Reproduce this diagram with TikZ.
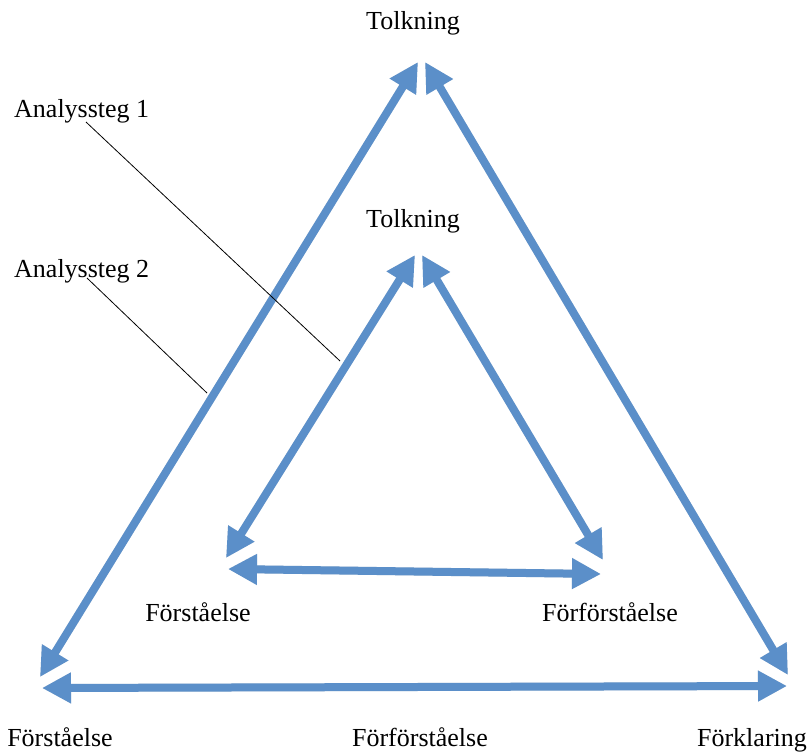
\documentclass[tikz,border=0pt]{standalone}
\usepackage{fontspec}
\setmainfont{Liberation Serif}
\usetikzlibrary{arrows.meta}
\definecolor{arrowblue}{RGB}{91,143,201}
\tikzset{
  tip/.style={Triangle[length=29pt,width=29pt]},
  dbl/.style={line width=8pt,draw=arrowblue,{Triangle[length=29pt,width=29pt]}-{Triangle[length=29pt,width=29pt]}},
  shadowed/.style={line width=8pt,draw=black,opacity=0.10,{Triangle[length=29pt,width=29pt]}-{Triangle[length=29pt,width=29pt]}},
  lbl/.style={font=\fontsize{26}{30}\selectfont,inner sep=0pt,anchor=base},
  leader/.style={draw=black,line width=0.8pt}
}
\begin{document}
\begin{tikzpicture}[x=1pt,y=-1pt]
\useasboundingbox (0,0) rectangle (812,753);
% outer tips
\coordinate (oBL) at (40,677);
\coordinate (oTL) at (418,62);
\coordinate (oTR) at (425,62);
\coordinate (oBR) at (788,675);
\coordinate (oHL) at (42,688);
\coordinate (oHR) at (787,686);
% inner tips
\coordinate (iBL) at (226,558);
\coordinate (iTL) at (415,255);
\coordinate (iTR) at (422,255);
\coordinate (iBR) at (603,560);
\coordinate (iHL) at (228,569);
\coordinate (iHR) at (601,574);
% leader ends
\coordinate (l1) at (340,361);
\coordinate (l2) at (207,393);
% shadows
\begin{scope}[shift={(2,3)}]
\foreach \a/\b in {oBL/oTL,oTR/oBR,oHL/oHR,iBL/iTL,iTR/iBR,iHL/iHR}
  \draw[shadowed] (\a) -- (\b);
\end{scope}
% arrows
\draw[dbl] (oBL) -- (oTL);
\draw[dbl] (oTR) -- (oBR);
\draw[dbl] (oHL) -- (oHR);
\draw[dbl] (iBL) -- (iTL);
\draw[dbl] (iTR) -- (iBR);
\draw[dbl] (iHL) -- (iHR);
% labels
\node[lbl] (t1) at (413,29) {Tolkning};
\node[lbl] (t2) at (413,227) {Tolkning};
\node[lbl,anchor=base west] (a1) at (14,117) {Analyssteg 1};
\node[lbl,anchor=base west] (a2) at (14,277) {Analyssteg 2};
\node[lbl] (if) at (198,621) {Förståelse};
\node[lbl] (iff) at (610,621) {Förförståelse};
\node[lbl] (bf) at (60,746) {Förståelse};
\node[lbl] (bff) at (420,746) {Förförståelse};
\node[lbl] (bk) at (752,746) {Förklaring};
% leaders
\coordinate (a1s) at (86,122);
\coordinate (a2s) at (87,278);
\draw[leader] (a1s) -- (l1);
\draw[leader] (a2s) -- (l2);
\end{tikzpicture}
\end{document}
